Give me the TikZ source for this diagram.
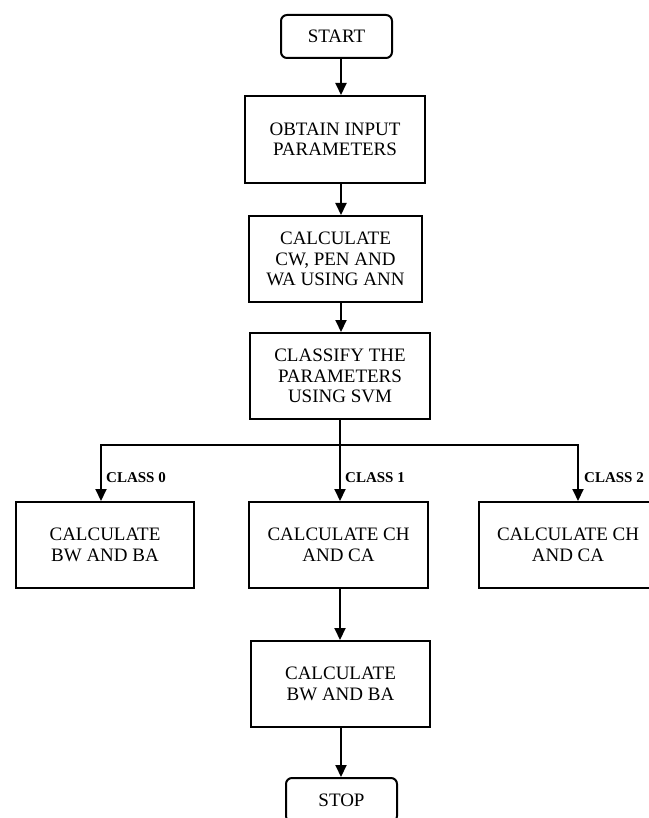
\documentclass[tikz,border=0pt]{standalone}
\usepackage{fontspec}
\setmainfont{Liberation Serif}
\usetikzlibrary{arrows.meta}
\begin{document}
\begin{tikzpicture}[x=1pt,y=-1pt,
  box/.style={draw,line width=2pt,align=center,inner sep=0pt,
    font=\fontsize{19}{20.5}\selectfont},
  term/.style={box,rounded corners=6pt},
  ln/.style={line width=2pt},
  arr/.style={ln,-{Triangle[length=12pt,width=11pt]}},
  lbl/.style={font=\fontsize{15}{16}\selectfont\bfseries,anchor=west,inner sep=0pt}]
\useasboundingbox (0,0) rectangle (648,818);
\node[term,minimum width=111pt,minimum height=43pt] (start) at (336.5,36.5) {START};
\node[box,minimum width=180pt,minimum height=87pt] (obtain) at (335,139.5) {OBTAIN INPUT\\PARAMETERS};
\node[box,minimum width=173pt,minimum height=86pt] (calc) at (335.5,259) {CALCULATE\\CW, PEN AND\\WA USING ANN};
\node[box,minimum width=180pt,minimum height=86pt] (classify) at (340,376) {CLASSIFY THE\\PARAMETERS\\USING SVM};
\node[box,minimum width=178pt,minimum height=86pt] (left) at (105,545) {CALCULATE\\BW AND BA};
\node[box,minimum width=179pt,minimum height=86pt] (mid) at (338.5,545) {CALCULATE CH\\AND CA};
\node[box,minimum width=178pt,minimum height=86pt] (right) at (568,545) {CALCULATE CH\\AND CA};
\node[box,minimum width=179pt,minimum height=86pt] (bottom) at (340.5,684) {CALCULATE\\BW AND BA};
\node[term,minimum width=111pt,minimum height=44pt] (stop) at (341.5,800) {STOP};
\coordinate (ax) at (341,0);
\coordinate (j) at (340,445);
\coordinate (jl) at (101,445);
\coordinate (jr) at (578,445);
\draw[arr] (start.south -| ax) -- (obtain.north -| ax);
\draw[arr] (obtain.south -| ax) -- (calc.north -| ax);
\draw[arr] (calc.south -| ax) -- (classify.north -| ax);
\draw[ln] (classify.south -| j) -- (j);
\draw[ln,line cap=rect] (jl) -- (jr);
\draw[arr] (jl) -- (jl |- left.north);
\draw[arr] (j) -- (j |- mid.north);
\draw[arr] (jr) -- (jr |- right.north);
\draw[arr] (mid.south -| j) -- (bottom.north -| j);
\draw[arr] (bottom.south -| ax) -- (stop.north -| ax);
\node[lbl] (c0) at (106,478) {CLASS 0};
\node[lbl] (c1) at (345,478) {CLASS 1};
\node[lbl] (c2) at (584,478) {CLASS 2};
\end{tikzpicture}
\end{document}
